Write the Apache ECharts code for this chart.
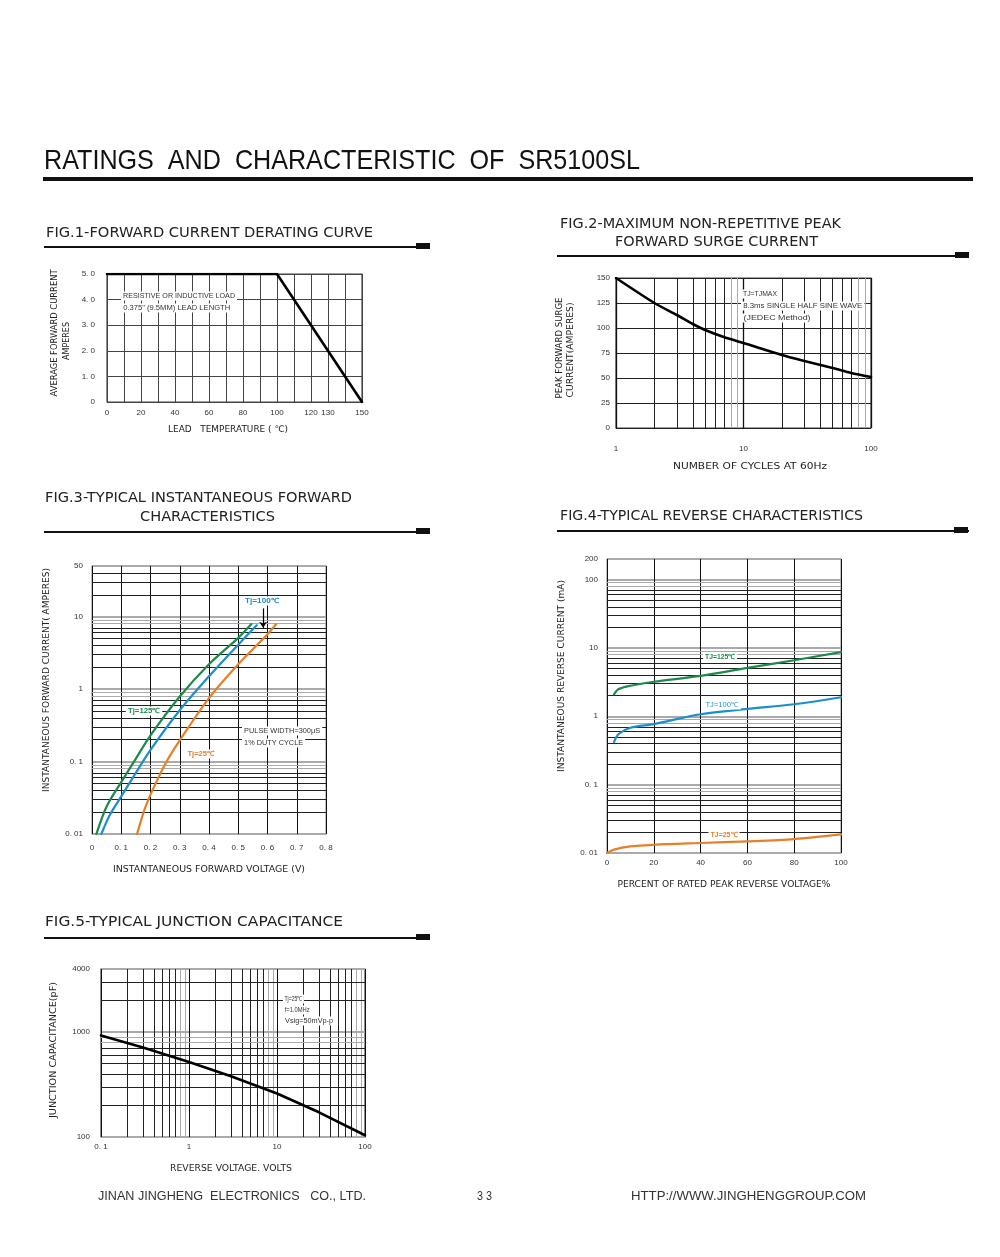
<!DOCTYPE html>
<html><head><meta charset="utf-8">
<script src="https://cdn.jsdelivr.net/npm/echarts@6/dist/echarts.min.js"></script>
<style>html,body{margin:0;padding:0;background:#fff}#c{width:1000px;height:1257px}</style>
</head><body><div id="c"></div>
<script>
// ================= DATA =================
// Fig.1 forward current derating curve
const fig1Temp = [0, 100, 150];
const fig1Current = [5, 5, 0];
const fig1XTicks = [0, 20, 40, 60, 80, 100, 120, 130, 150];
const fig1YTicks = [0, 1, 2, 3, 4, 5];
const fig1YLabels = ['0', '1. 0', '2. 0', '3. 0', '4. 0', '5. 0'];

// Fig.2 max non-repetitive peak forward surge current
const fig2Cycles = [1, 2, 3, 4, 5, 7, 10, 20, 30, 50, 70, 100];
const fig2Surge = [150, 125, 113, 104, 98, 91, 85, 73, 67, 60, 55, 51];
const fig2XTicks = [1, 10, 100];
const fig2YTicks = [0, 25, 50, 75, 100, 125, 150];

// Fig.3 typical instantaneous forward characteristics
const fig3V125 = [0.015, 0.05, 0.1, 0.15, 0.2, 0.3, 0.4, 0.5, 0.545];
const fig3I125 = [0.01, 0.024, 0.052, 0.11, 0.23, 0.79, 2.2, 5.1, 7.9];
const fig3V100 = [0.032, 0.06, 0.1, 0.15, 0.2, 0.3, 0.4, 0.5, 0.563];
const fig3I100 = [0.01, 0.018, 0.033, 0.07, 0.145, 0.51, 1.5, 4.1, 7.6];
const fig3V25 = [0.154, 0.18, 0.2, 0.25, 0.3, 0.4, 0.5, 0.6, 0.63];
const fig3I25 = [0.01, 0.022, 0.035, 0.092, 0.196, 0.75, 2.2, 5.7, 7.9];
const fig3XTicks = [0, 0.1, 0.2, 0.3, 0.4, 0.5, 0.6, 0.7, 0.8];
const fig3XLabels = ['0', '0. 1', '0. 2', '0. 3', '0. 4', '0. 5', '0. 6', '0. 7', '0. 8'];
const fig3YTicks = [0.01, 0.1, 1, 10, 50];
const fig3YLabels = ['0. 01', '0. 1', '1', '10', '50'];
const fig3Arrow = [[0.585, 13], [0.585, 7]];

// Fig.4 typical reverse characteristics
const fig4Pct = [3, 5, 10, 20, 40, 60, 80, 100];
const fig4I125 = [2.1, 2.5, 2.8, 3.2, 3.9, 5.1, 6.6, 8.7];
const fig4I100 = [0.42, 0.55, 0.68, 0.77, 1.07, 1.28, 1.5, 1.9];
const fig4Pct25 = [0, 3, 10, 20, 40, 60, 80, 100];
const fig4I25 = [0.01, 0.0112, 0.0125, 0.0132, 0.014, 0.0148, 0.016, 0.0187];
const fig4XTicks = [0, 20, 40, 60, 80, 100];
const fig4YTicks = [0.01, 0.1, 1, 10, 100, 200];
const fig4YLabels = ['0. 01', '0. 1', '1', '10', '100', '200'];

// Fig.5 typical junction capacitance
const fig5Volt = [0.1, 0.3, 1, 3, 10, 30, 100];
const fig5Cap = [930, 713, 520, 379, 260, 172, 104];
const fig5XTicks = [0.1, 1, 10, 100];
const fig5XLabels = ['0. 1', '1', '10', '100'];
const fig5YTicks = [100, 1000, 4000];
const fig5YLabels = ['100', '1000', '4000'];

// ================= HELPERS =================
const GREEN = '#1b8a4c', BLUE = '#1a8fcb', ORANGE = '#e57f28';
const zip = (a, b) => a.map((v, i) => [v, b[i]]);
function lab(ticks, labels) {
  labels = labels || ticks.map(String);
  return function (v) {
    for (let i = 0; i < ticks.length; i++) {
      if (Math.abs(v - ticks[i]) <= 1e-6 * Math.max(Math.abs(ticks[i]), 1e-9)) return labels[i];
    }
    return '';
  };
}
function logMinors(min, max) {
  const out = [];
  for (let e = Math.floor(Math.log10(min)); e <= Math.ceil(Math.log10(max)); e++) {
    for (let m = 2; m <= 9; m++) {
      const v = m * Math.pow(10, e);
      if (v > min * 1.0001 && v < max * 0.9999) out.push(v);
    }
  }
  return out;
}
function minorColor(v) {
  const m = Math.round(v / Math.pow(10, Math.floor(Math.log10(v) + 1e-9)));
  return m >= 8 ? '#aaa' : '#222';
}
function gridLines(idx, vals, dim) {
  return {
    type: 'line', xAxisIndex: idx, yAxisIndex: idx, data: [], silent: true, z: 1,
    markLine: {
      silent: true, symbol: ['none', 'none'], animation: false, label: { show: false },
      data: vals.map(v => ({ [dim]: v, lineStyle: { color: minorColor(v), width: 1, type: 'solid' } }))
    }
  };
}
const meas = document.createElement('canvas').getContext('2d');
function txt(s, x, y, o) {
  o = o || {};
  const size = o.size || 10, fam = o.family || 'DejaVu Sans', weight = o.weight || 'normal';
  let sx = 1;
  if (o.w) { meas.font = weight + ' ' + size + 'px "' + fam + '"'; sx = o.w / meas.measureText(s).width; }
  const el = {
    type: 'text', x: x, y: y, rotation: o.rot || 0, scaleX: sx, z: 100, silent: true,
    style: { text: s, fontSize: size, fontFamily: fam, fontWeight: weight, fill: o.color || '#222',
      align: o.align || 'left', verticalAlign: 'middle' }
  };
  if (o.bg) { el.style.backgroundColor = '#fff'; el.style.padding = [1, 2]; }
  return el;
}
function hline(x1, x2, y, w) {
  return { type: 'line', z: 100, silent: true, shape: { x1: x1, y1: y, x2: x2, y2: y }, style: { stroke: '#111', lineWidth: w } };
}
function box(x, y, w, h) {
  return { type: 'rect', z: 100, silent: true, shape: { x: x, y: y, width: w, height: h }, style: { fill: '#111' } };
}
const LBL = { fontFamily: 'Liberation Sans', fontSize: 8, color: '#333' };
function axisBase(extra) {
  return Object.assign({
    axisTick: { show: false }, axisLine: { show: false },
    splitLine: { show: true, lineStyle: { color: '#333', width: 1 } },
  }, extra);
}

// ================= OPTION =================
const grids = [
  { left: 107, top: 274, width: 255, height: 128 },
  { left: 616, top: 278, width: 255, height: 150 },
  { left: 92, top: 566, width: 234, height: 268 },
  { left: 607, top: 559, width: 234, height: 294 },
  { left: 101, top: 969, width: 264, height: 168 }
].map((g, i) => Object.assign({ show: true, borderColor: (i === 2 || i === 3) ? '#999' : '#444', borderWidth: 1.2, backgroundColor: '#fff' }, g));

const xAxes = [
  axisBase({ gridIndex: 0, type: 'value', min: 0, max: 150, interval: 10,
    axisLabel: Object.assign({ margin: 7, showMinLabel: true, showMaxLabel: true, formatter: lab(fig1XTicks) }, LBL),
    splitLine: { lineStyle: { color: '#444' } } }),
  axisBase({ gridIndex: 1, type: 'log', logBase: 10, min: 1, max: 100,
    axisLabel: Object.assign({ margin: 17, showMinLabel: true, showMaxLabel: true, formatter: lab(fig2XTicks) }, LBL),
    splitLine: { lineStyle: { color: '#111', width: 1.3 } } }),
  axisBase({ gridIndex: 2, type: 'value', min: 0, max: 0.8, interval: 0.1,
    axisLabel: Object.assign({ margin: 10, showMinLabel: true, showMaxLabel: true, formatter: lab(fig3XTicks, fig3XLabels) }, LBL),
    splitLine: { lineStyle: { color: '#111' } } }),
  axisBase({ gridIndex: 3, type: 'value', min: 0, max: 100, interval: 20,
    axisLabel: Object.assign({ margin: 6, showMinLabel: true, showMaxLabel: true, formatter: lab(fig4XTicks) }, LBL),
    splitLine: { lineStyle: { color: '#111' } } }),
  axisBase({ gridIndex: 4, type: 'log', logBase: 10, min: 0.1, max: 100,
    axisLabel: Object.assign({ margin: 6, showMinLabel: true, showMaxLabel: true, formatter: lab(fig5XTicks, fig5XLabels) }, LBL),
    splitLine: { lineStyle: { color: '#111' } } })
];
const yAxes = [
  axisBase({ gridIndex: 0, type: 'value', min: 0, max: 5, interval: 1,
    axisLabel: Object.assign({ margin: 12, showMinLabel: true, showMaxLabel: true, formatter: lab(fig1YTicks, fig1YLabels) }, LBL),
    splitLine: { lineStyle: { color: '#444' } } }),
  axisBase({ gridIndex: 1, type: 'value', min: 0, max: 150, interval: 25,
    axisLabel: Object.assign({ margin: 6, showMinLabel: true, showMaxLabel: true, formatter: lab(fig2YTicks) }, LBL),
    splitLine: { lineStyle: { color: '#222' } } }),
  axisBase({ gridIndex: 2, type: 'log', logBase: 10, min: 0.01, max: 50,
    axisLabel: Object.assign({ margin: 9, showMinLabel: true, showMaxLabel: true, formatter: lab(fig3YTicks, fig3YLabels) }, LBL),
    splitLine: { lineStyle: { color: '#aaa', width: 2 } } }),
  axisBase({ gridIndex: 3, type: 'log', logBase: 10, min: 0.01, max: 200,
    axisLabel: Object.assign({ margin: 9, showMinLabel: true, showMaxLabel: true, formatter: lab(fig4YTicks, fig4YLabels) }, LBL),
    splitLine: { lineStyle: { color: '#aaa', width: 2 } } }),
  axisBase({ gridIndex: 4, type: 'log', logBase: 10, min: 100, max: 4000,
    axisLabel: Object.assign({ margin: 11, showMinLabel: true, showMaxLabel: true, formatter: lab(fig5YTicks, fig5YLabels) }, LBL),
    splitLine: { lineStyle: { color: '#aaa', width: 2 } } })
];

function curve(idx, data, color, width, smooth) {
  return { type: 'line', xAxisIndex: idx, yAxisIndex: idx, data: data, symbol: 'none', smooth: smooth,
    z: 5, silent: true, lineStyle: { color: color, width: width, join: 'round', cap: 'round' } };
}

const series = [
  gridLines(1, logMinors(1, 100), 'xAxis'),
  gridLines(2, logMinors(0.01, 50), 'yAxis'),
  gridLines(3, logMinors(0.01, 200), 'yAxis'),
  gridLines(4, logMinors(0.1, 100), 'xAxis'),
  gridLines(4, logMinors(100, 4000), 'yAxis'),
  curve(0, zip(fig1Temp, fig1Current), '#000', 2.6, false),
  curve(1, zip(fig2Cycles, fig2Surge), '#000', 2.6, 0.25),
  curve(2, zip(fig3V125, fig3I125), GREEN, 2.2, 0.3),
  curve(2, zip(fig3V100, fig3I100), BLUE, 2.2, 0.3),
  curve(2, zip(fig3V25, fig3I25), ORANGE, 2.2, 0.3),
  { type: 'line', xAxisIndex: 2, yAxisIndex: 2, data: [], z: 6, silent: true,
    markLine: { silent: true, animation: false, symbol: ['none', 'arrow'], symbolSize: 6, label: { show: false },
      lineStyle: { color: '#000', width: 1.2, type: 'solid' },
      data: [[{ coord: fig3Arrow[0] }, { coord: fig3Arrow[1] }]] } },
  curve(3, zip(fig4Pct, fig4I125), GREEN, 2.2, 0.3),
  curve(3, zip(fig4Pct, fig4I100), BLUE, 2.2, 0.3),
  curve(3, zip(fig4Pct25, fig4I25), ORANGE, 2.2, 0.3),
  curve(4, zip(fig5Volt, fig5Cap), '#000', 2.6, false)
];

const PI2 = Math.PI / 2;
const TF = 'DejaVu Sans';
const elements = [
  // page header
  txt('RATINGS  AND  CHARACTERISTIC  OF  SR5100SL', 44, 161, { size: 28, family: 'Liberation Sans', w: 596, color: '#111' }),
  hline(43, 973, 179, 4),
  // figure titles
  txt('FIG.1-FORWARD CURRENT DERATING CURVE', 46, 233, { size: 14, family: TF, w: 327 }),
  hline(44, 430, 247, 2), box(416, 243, 14, 6),
  txt('FIG.2-MAXIMUM NON-REPETITIVE PEAK', 560, 224, { size: 14, family: TF, w: 281 }),
  txt('FORWARD SURGE CURRENT', 615, 242, { size: 14, family: TF, w: 203 }),
  hline(557, 969, 256, 2), box(955, 252, 14, 6),
  txt('FIG.3-TYPICAL INSTANTANEOUS FORWARD', 45, 498, { size: 14, family: TF, w: 307 }),
  txt('CHARACTERISTICS', 140, 517, { size: 14, family: TF, w: 135 }),
  hline(44, 430, 532, 2), box(416, 528, 14, 6),
  txt('FIG.4-TYPICAL REVERSE CHARACTERISTICS', 560, 516, { size: 14, family: TF, w: 303 }),
  hline(557, 969, 531, 2), box(954, 527, 14, 6),
  txt('FIG.5-TYPICAL JUNCTION CAPACITANCE', 45, 922, { size: 14, family: TF, w: 298 }),
  hline(44, 430, 938, 2), box(416, 934, 14, 6),
  // axis names
  txt('AVERAGE FORWARD CURRENT', 55, 333, { size: 9, family: TF, w: 127, rot: PI2, align: 'center' }),
  txt('AMPERES', 67, 341, { size: 9, family: TF, w: 38, rot: PI2, align: 'center' }),
  txt('LEAD   TEMPERATURE ( ℃)', 228, 430, { size: 9, family: TF, w: 120, align: 'center' }),
  txt('PEAK FORWARD SURGE', 560, 348, { size: 9, family: TF, w: 101, rot: PI2, align: 'center' }),
  txt('CURRENT(AMPERES)', 571, 350, { size: 9, family: TF, w: 95, rot: PI2, align: 'center' }),
  txt('NUMBER OF CYCLES AT 60Hz', 750, 467, { size: 9, family: TF, w: 154, align: 'center' }),
  txt('INSTANTANEOUS FORWARD CURRENT( AMPERES)', 47, 680, { size: 9, family: TF, w: 224, rot: PI2, align: 'center' }),
  txt('INSTANTANEOUS FORWARD VOLTAGE (V)', 209, 870, { size: 9, family: TF, w: 192, align: 'center' }),
  txt('INSTANTANEOUS REVERSE CURRENT (mA)', 562, 676, { size: 9, family: TF, w: 192, rot: PI2, align: 'center' }),
  txt('PERCENT OF RATED PEAK REVERSE VOLTAGE%', 724, 885, { size: 9, family: TF, w: 213, align: 'center' }),
  txt('JUNCTION CAPACITANCE(pF)', 54, 1050, { size: 9, family: TF, w: 136, rot: PI2, align: 'center' }),
  txt('REVERSE VOLTAGE. VOLTS', 231, 1169, { size: 9, family: TF, w: 122, align: 'center' }),
  // annotations
  txt('RESISTIVE OR INDUCTIVE LOAD', 121, 296, { size: 7, family: 'Liberation Sans', w: 112, bg: true, color: '#333' }),
  txt('0.375" (9.5MM) LEAD LENGTH', 121, 308, { size: 7, family: 'Liberation Sans', w: 107, bg: true, color: '#333' }),
  txt('TJ=TJMAX', 741, 294, { size: 7, family: 'Liberation Sans', w: 34, bg: true, color: '#333' }),
  txt('8.3ms SINGLE HALF SINE WAVE', 741, 306, { size: 7, family: 'Liberation Sans', w: 119, bg: true, color: '#333' }),
  txt('(JEDEC Method)', 741, 318, { size: 7, family: 'Liberation Sans', w: 67, bg: true, color: '#333' }),
  txt('Tj=100℃', 262, 601, { size: 7, family: 'Liberation Sans', w: 34, bg: true, color: BLUE, align: 'center', weight: 'bold' }),
  txt('Tj=125℃', 144, 711, { size: 7, family: 'Liberation Sans', w: 32, bg: true, color: GREEN, align: 'center', weight: 'bold' }),
  txt('Tj=25℃', 201, 754, { size: 7, family: 'Liberation Sans', w: 27, bg: true, color: ORANGE, align: 'center', weight: 'bold' }),
  txt('PULSE WIDTH=300μS', 242, 731, { size: 7, family: 'Liberation Sans', w: 76, bg: true, color: '#333' }),
  txt('1% DUTY CYCLE', 242, 743, { size: 7, family: 'Liberation Sans', w: 59, bg: true, color: '#333' }),
  txt('TJ=125℃', 720, 657, { size: 7, family: 'Liberation Sans', w: 30, bg: true, color: GREEN, align: 'center', weight: 'bold' }),
  txt('TJ=100℃', 722, 705, { size: 7, family: 'Liberation Sans', w: 33, bg: true, color: BLUE, align: 'center' }),
  txt('TJ=25℃', 724, 835, { size: 7, family: 'Liberation Sans', w: 27, bg: true, color: ORANGE, align: 'center', weight: 'bold' }),
  txt('Tj=25℃', 283, 999, { size: 7, family: 'Liberation Sans', w: 18, bg: true, color: '#333' }),
  txt('f=1.0MHz', 283, 1010, { size: 7, family: 'Liberation Sans', w: 25, bg: true, color: '#333' }),
  txt('Vsig=50mVp-p', 283, 1021, { size: 7, family: 'Liberation Sans', w: 48, bg: true, color: '#333' }),
  // footer
  txt('JINAN JINGHENG  ELECTRONICS   CO., LTD.', 98, 1196, { size: 13, family: 'Liberation Sans', w: 268, color: '#333' }),
  txt('3 3', 477, 1196, { size: 13, family: 'Liberation Sans', w: 15, color: '#333' }),
  txt('HTTP://WWW.JINGHENGGROUP.COM', 631, 1196, { size: 13, family: 'Liberation Sans', w: 235, color: '#333' })
];

const chart = echarts.init(document.getElementById('c'), null, { renderer: 'canvas' });
chart.setOption({
  backgroundColor: '#fff',
  animation: false,
  grid: grids,
  xAxis: xAxes,
  yAxis: yAxes,
  series: series,
  graphic: { elements: elements }
});
</script>
</body></html>
